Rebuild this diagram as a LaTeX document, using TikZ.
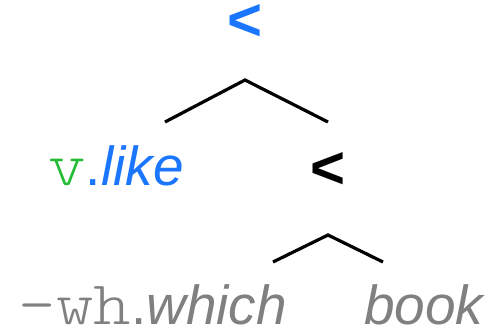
\documentclass[tikz,border=0pt]{standalone}
\usepackage{fontspec}
\setmainfont{Liberation Sans}
\newfontfamily\featfont{lmmonolt10-regular}[Extension=.otf, FakeStretch=1.15]
\definecolor{opblue}{RGB}{26,117,255}
\definecolor{featgreen}{RGB}{34,187,51}
\definecolor{movedgray}{RGB}{128,128,128}
\newcommand{\feat}[1]{{\fontsize{62}{62}\selectfont\featfont #1}}
\tikzset{
  word/.style={anchor=base, inner sep=0pt, text depth=0pt, font=\fontsize{55}{55}\selectfont},
  op/.style={anchor=base, inner sep=0pt, text height=32pt, text depth=0pt, font=\fontsize{60}{60}\selectfont\bfseries},
  branch/.style={black, line width=3.2pt}
}
\begin{document}
\begin{tikzpicture}[x=1pt, y=-1pt]
  \useasboundingbox (0,0) rectangle (491,335);
  \node [op, text=opblue] (root) at (245,40) {<};
  \node [word, text=opblue] (like) at (116,185) {{\color{featgreen}\feat{v}}.\textit{like}};
  \node [op] (inner) at (328,188) {<};
  \node [word, text=movedgray] (which) at (153,324) {\feat{-wh}.\textit{which}};
  \node [word, text=movedgray] (book) at (425,324) {\textit{book}};
  \coordinate (root fork) at (245,80);
  \coordinate (like top) at (165,122);
  \coordinate (inner top) at (328,122);
  \coordinate (inner fork) at (328,235);
  \coordinate (which top) at (273,262);
  \coordinate (book top) at (383,262);
  \draw [branch] (like top) -- (root fork) -- (inner top);
  \draw [branch] (which top) -- (inner fork) -- (book top);
\end{tikzpicture}
\end{document}
